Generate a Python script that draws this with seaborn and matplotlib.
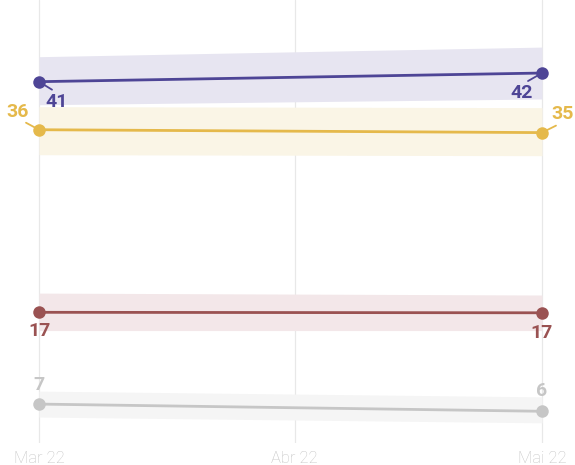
import numpy as np
import pandas as pd
import matplotlib
matplotlib.use("Agg")
import matplotlib.pyplot as plt
import seaborn as sns

# ---- data ----
dates = ["2022-03-01", "2022-05-01"]
tick_dates = ["2022-03-01", "2022-04-01", "2022-05-01"]
tick_labels = ["Mar 22", "Abr 22", "Mai 22"]

series = ["A", "B", "C", "D"]
vals_a = [41.0, 41.9]
vals_b = [36.0, 35.7]
vals_c = [17.0, 16.95]
vals_d = [7.45, 6.7]

low_a, high_a = [38.6, 39.2], [43.6, 44.6]
low_b, high_b = [33.4, 33.3], [38.4, 38.3]
low_c, high_c = [15.1, 15.1], [19.0, 18.8]
low_d, high_d = [6.1, 5.5], [8.8, 8.2]

labels_a = ["41", "42"]
labels_b = ["36", "35"]
labels_c = ["17", "17"]
labels_d = ["7", "6"]

colors = {"A": "#4e4596", "B": "#e5b94b", "C": "#9a5252", "D": "#c6c6c6"}
band_colors = {"A": "#e7e5f1", "B": "#faf5e6", "C": "#f3e7e9", "D": "#f5f5f5"}

# ---- build frame ----
x = pd.to_datetime(dates)
vals = {"A": vals_a, "B": vals_b, "C": vals_c, "D": vals_d}
lows = {"A": low_a, "B": low_b, "C": low_c, "D": low_d}
highs = {"A": high_a, "B": high_b, "C": high_c, "D": high_d}
labels = {"A": labels_a, "B": labels_b, "C": labels_c, "D": labels_d}

df = pd.concat(
    [pd.DataFrame({"date": x, "value": vals[s], "serie": s}) for s in series],
    ignore_index=True,
)

sns.set_theme(style="white")
plt.rcParams["font.family"] = ["Roboto", "DejaVu Sans"]

fig = plt.figure(figsize=(5.75, 4.65), dpi=100)
ax = fig.add_axes([0, 22 / 465, 1, 443 / 465])

# bands
for s in series:
    ax.fill_between(x, lows[s], highs[s], color=band_colors[s], lw=0, zorder=1)

# vertical grid
for d in pd.to_datetime(tick_dates):
    ax.axvline(d, color="#e8e8e8", lw=0.9, zorder=0.5)

sns.lineplot(
    data=df, x="date", y="value", hue="serie", palette=colors,
    marker="o", markersize=9, markeredgewidth=0, linewidth=2,
    legend=False, ax=ax, zorder=3,
)

# point labels: text offset (px), leader-line end offset (px) or None
offsets = {
    "A": [((18, -20), (13, -8)), ((-20, -20), (-14, -8))],
    "B": [((-21, 18), (-13, 7)), ((21, 19), (14, 7))],
    "C": [((0, -19), None), ((0, -20), None)],
    "D": [((0, 19), None), ((0, 20), None)],
}
for s in series:
    for i in range(2):
        (dx, dy), lead = offsets[s][i]
        if lead is not None:
            ax.annotate(
                "", xy=(x[i], vals[s][i]), xytext=lead, textcoords="offset pixels",
                arrowprops=dict(arrowstyle="-", color=colors[s], lw=1.3,
                                shrinkA=0, shrinkB=0),
                zorder=2.5,
            )
        ax.annotate(
            labels[s][i], xy=(x[i], vals[s][i]), xytext=(dx, dy),
            textcoords="offset pixels", ha="center", va="center",
            fontsize=14, fontweight="bold", color=colors[s], zorder=4,
        )

# axes scaling: Mar 22 at 39px, Mai 22 at 542px
px_per_day = 503 / 61
left = pd.Timestamp(dates[0]) - pd.Timedelta(days=39 / px_per_day)
right = pd.Timestamp(dates[1]) + pd.Timedelta(days=(575 - 542) / px_per_day)
ax.set_xlim(left, right)
ax.set_ylim(3.4, 49.5)

ax.set_xticks(pd.to_datetime(tick_dates))
ax.set_xticklabels(tick_labels, fontsize=12, color="#c4c4c4", fontweight="light")
ax.tick_params(axis="x", length=0, pad=6)
ax.set_yticks([])
ax.set_xlabel("")
ax.set_ylabel("")
for sp in ax.spines.values():
    sp.set_visible(False)

fig.savefig("out.png", dpi=100)
